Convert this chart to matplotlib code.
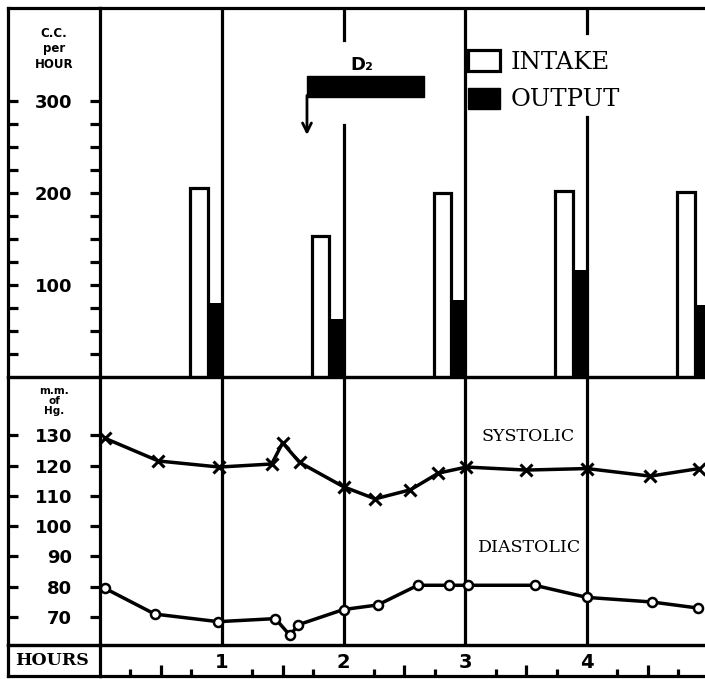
import matplotlib
matplotlib.use("Agg")
import matplotlib.pyplot as plt
from matplotlib.patches import Patch

# fluid balance (c.c. per hour), one pair of bars per hour
bar_hours = [1, 2, 3, 4, 5]
intake = [205, 153, 200, 202, 201]
output = [80, 63, 84, 116, 78]

# D2 given between these times (hours)
d2_start, d2_end = 1.70, 2.66

# blood pressure, mm Hg
sys_hours = [0.04, 0.48, 0.98, 1.41, 1.50, 1.64, 2.00, 2.26, 2.55, 2.78, 3.01, 3.50, 4.00, 4.52, 4.92]
systolic = [129, 121.5, 119.5, 120.5, 127.5, 121, 113, 109, 112, 117.5, 119.5, 118.5, 119, 116.5, 119]
dia_hours = [0.04, 0.45, 0.97, 1.44, 1.56, 1.63, 2.00, 2.28, 2.61, 2.87, 3.02, 3.57, 4.00, 4.53, 4.91]
diastolic = [79.5, 71, 68.5, 69.5, 64, 67.5, 72.5, 74, 80.5, 80.5, 80.5, 80.5, 76.5, 75, 73]

hour_labels = [1, 2, 3, 4]

W, H = 705, 679
LW = 2.3


def box(x0, y0, x1, y1):
    # pixel box -> figure fraction
    return [x0 / W, 1 - y1 / H, (x1 - x0) / W, (y1 - y0) / H]


fig = plt.figure(figsize=(7.05, 6.79), dpi=100)
# left label column first so the panels' tick labels sit on top of it
col_top = fig.add_axes(box(8, 8, 100, 377))
col_bp = fig.add_axes(box(8, 377, 100, 645))
col_hr = fig.add_axes(box(8, 645, 100, 676))
ax_top = fig.add_axes(box(100, 8, 705, 377))
ax_bp = fig.add_axes(box(100, 377, 705, 645))
ax_hr = fig.add_axes(box(100, 645, 705, 676))

xmax = 605 / 121.75
for ax in (ax_top, ax_bp, ax_hr, col_top, col_bp, col_hr):
    ax.patch.set_visible(False)
    ax.spines["right"].set_visible(False)
    for s in ax.spines.values():
        s.set_linewidth(LW)
    ax.set_xticks([])
for ax in (ax_top, ax_bp, ax_hr):
    ax.set_xlim(0, xmax)

# ---- top panel: bars
ax_top.set_ylim(0, 401)
col_top.set_ylim(0, 401)
ax_top.bar([h - 0.26 for h in bar_hours], intake, width=0.145, align="edge",
           facecolor="white", edgecolor="black", linewidth=LW, zorder=3)
ax_top.bar([h - 0.115 for h in bar_hours], output, width=0.115, align="edge",
           color="black", zorder=3)

top_major = [100, 200, 300]
top_minor = list(range(25, 301, 25))
ax_top.set_yticks(top_major)
ax_top.set_yticks(top_minor, minor=True)
ax_top.tick_params(axis="y", which="both", direction="out", length=7, width=LW,
                   labelsize=13, pad=13)
for t in ax_top.get_yticklabels():
    t.set_fontweight("bold")
col_top.set_yticks(top_minor)
col_top.tick_params(axis="y", direction="in", length=7, width=LW, labelleft=False)
col_top.text(0.5, 0.89, "C.C.\nper\nHOUR", transform=col_top.transAxes, ha="center",
             va="center", fontsize=8.5, fontweight="bold", linespacing=1.25)

# hour lines (broken where D2 label and legend sit)
ax_top.axvline(1, color="black", lw=LW, zorder=2)
ax_top.axvline(3, color="black", lw=LW, zorder=2)
ax_top.axvline(2, ymax=0.683, color="black", lw=LW, zorder=2)
ax_top.axvline(2, ymin=0.913, color="black", lw=LW, zorder=2)
ax_top.axvline(4, ymax=0.705, color="black", lw=LW, zorder=2)
ax_top.axvline(4, ymin=0.932, color="black", lw=LW, zorder=2)

# D2 bracket
ax_top.broken_barh([(d2_start, d2_end - d2_start)], (304, 23), color="black")
ax_top.annotate("", xy=(d2_start, 263), xytext=(d2_start, 306),
                arrowprops=dict(arrowstyle="->", lw=2, color="black", mutation_scale=16,
                                shrinkA=0, shrinkB=0))
ax_top.text((d2_start + d2_end) / 2 - 0.03, 339, "D₂", ha="center", va="center",
            fontsize=13, fontweight="bold")

handles = [Patch(facecolor="white", edgecolor="black", linewidth=LW),
           Patch(facecolor="black", edgecolor="black")]
ax_top.legend(handles, ["INTAKE", "OUTPUT"], loc="upper left",
              bbox_to_anchor=(0.589, 0.918), frameon=False, borderpad=0,
              handlelength=1.3, handleheight=0.95, handletextpad=0.45,
              labelspacing=0.55, prop={"family": "DejaVu Serif", "size": 17.5})

# ---- bottom panel: blood pressure
ax_bp.set_ylim(60.8, 149.2)
col_bp.set_ylim(60.8, 149.2)
for h in hour_labels:
    ax_bp.axvline(h, color="black", lw=LW, zorder=1)
ax_bp.plot(sys_hours, systolic, color="black", lw=2.5, marker="x", ms=8, mew=2.2, zorder=3)
ax_bp.plot(dia_hours, diastolic, color="black", lw=2.5, marker="o", ms=6.5, mew=1.8,
           mfc="white", zorder=3)
ax_bp.text(3.52, 129.5, "SYSTOLIC", ha="center", va="center", fontsize=12.5,
           family="DejaVu Serif")
ax_bp.text(3.53, 93, "DIASTOLIC", ha="center", va="center", fontsize=12.5,
           family="DejaVu Serif")

bp_ticks = list(range(70, 131, 10))
ax_bp.set_yticks(bp_ticks)
ax_bp.tick_params(axis="y", direction="out", length=7, width=LW, labelsize=13, pad=13)
for t in ax_bp.get_yticklabels():
    t.set_fontweight("bold")
col_bp.set_yticks(bp_ticks)
col_bp.tick_params(axis="y", direction="in", length=7, width=LW, labelleft=False)
col_bp.text(0.5, 0.91, "m.m.\nof\nHg.", transform=col_bp.transAxes, ha="center",
            va="center", fontsize=7.5, fontweight="bold", linespacing=1.0)

# ---- hours row
ax_hr.set_yticks([])
ax_hr.set_xticks([h + 0.5 for h in range(5)])
ax_hr.set_xticks([h + q for h in range(5) for q in (0.25, 0.75)], minor=True)
ax_hr.tick_params(axis="x", which="major", direction="in", length=8, width=LW,
                  labelbottom=False)
ax_hr.tick_params(axis="x", which="minor", direction="in", length=5, width=LW)
for h in hour_labels:
    ax_hr.text(h, 0.45, str(h), transform=ax_hr.get_xaxis_transform(), ha="center",
               va="center", fontsize=14, fontweight="bold")
col_hr.set_yticks([])
col_hr.text(0.08, 0.5, "HOURS", transform=col_hr.transAxes, ha="left", va="center",
            fontsize=12.5, fontweight="bold", family="DejaVu Serif")

fig.savefig("out.png", dpi=100)
